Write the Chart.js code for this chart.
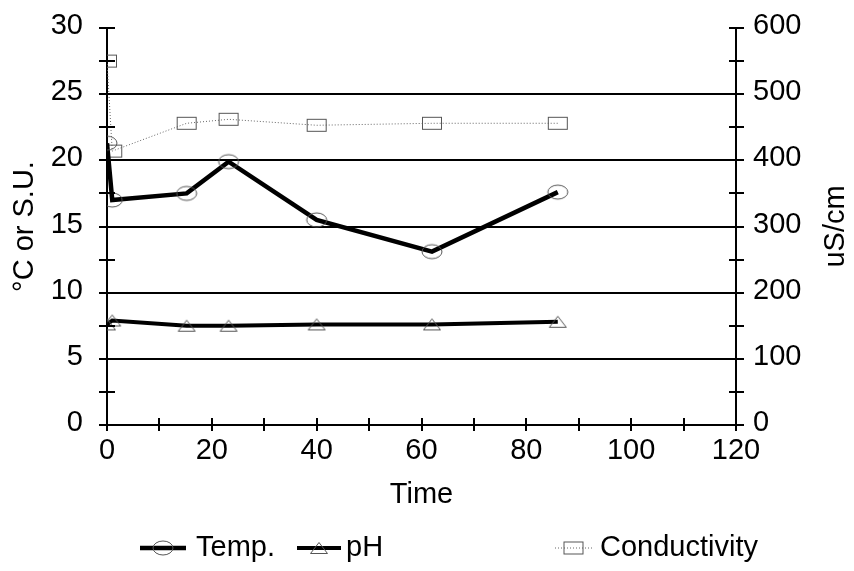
<!DOCTYPE html>
<html><head><meta charset="utf-8">
<script src="https://cdn.jsdelivr.net/npm/chart.js@4/dist/chart.umd.min.js"></script>
<style>html,body{margin:0;padding:0;background:#fff;overflow:hidden}#wrap{width:854px;height:571px}</style>
</head><body><div id="wrap"><canvas id="c" width="854" height="571"></canvas></div>
<script>
// ---- data ----
const timeValues = [0, 1, 15.2, 23.2, 40, 62, 86];
const tempValues = [21.3, 17.0, 17.5, 19.9, 15.5, 13.1, 17.6];
const phValues = [7.6, 7.9, 7.5, 7.5, 7.6, 7.6, 7.8];
const condValues = [550, 414, 456, 462, 453, 456, 456];
const seriesLabels = ['Temp.', 'pH', 'Conductivity'];
const xTickValues = [0, 20, 40, 60, 80, 100, 120];
const leftTickValues = [0, 5, 10, 15, 20, 25, 30];
const rightTickValues = [0, 100, 200, 300, 400, 500, 600];
const xTitle = 'Time';
const leftTitle = '°C or S.U.';
const rightTitle = 'uS/cm';

const FONT = 'Arial, "Liberation Sans", sans-serif';
const FS = 29;

function mk(w, h, draw) {
  const c = document.createElement('canvas');
  c.width = w + 4; c.height = h + 4;
  const g = c.getContext('2d');
  g.strokeStyle = '#555'; g.lineWidth = 1;
  draw(g, c.width, c.height);
  return c;
}
const circleMarker = mk(20, 14, (g, W, H) => { g.beginPath(); g.ellipse(W/2, H/2, 10, 7, 0, 0, Math.PI*2); g.stroke(); });
const triMarker = mk(18, 12, (g, W, H) => { g.beginPath(); g.moveTo(W/2, 2.5); g.lineTo(2.5, H-2.5); g.lineTo(W-2.5, H-2.5); g.closePath(); g.stroke(); });
const rectMarker = mk(20, 13, (g, W, H) => { g.strokeRect(2.5, 2.5, W-5, H-5); });

function pts(ys) { return timeValues.map((t, i) => ({x: t, y: ys[i]})); }

const crossTicks = {
  id: 'crossTicks',
  afterDraw(chart) {
    const ctx = chart.ctx, xs = chart.scales.x, ys = chart.scales.y, y1 = chart.scales.y1;
    ctx.save();
    ctx.strokeStyle = '#000'; ctx.lineWidth = 2;
    const xb = ys.getPixelForValue(0);
    for (let v = xs.min; v <= xs.max; v += 10) {
      const px = Math.round(xs.getPixelForValue(v));
      ctx.beginPath(); ctx.moveTo(px, xb - 7); ctx.lineTo(px, xb + 6); ctx.stroke();
    }
    const yl = xs.getPixelForValue(xs.min);
    for (let v = ys.min; v <= ys.max; v += 2.5) {
      const py = Math.round(ys.getPixelForValue(v));
      ctx.beginPath(); ctx.moveTo(yl - 8, py); ctx.lineTo(yl + 8, py); ctx.stroke();
    }
    const yr = xs.getPixelForValue(xs.max);
    for (let v = y1.min; v <= y1.max; v += 50) {
      const py = Math.round(y1.getPixelForValue(v));
      ctx.beginPath(); ctx.moveTo(yr - 7, py); ctx.lineTo(yr + 8, py); ctx.stroke();
    }
    // right axis title, reading bottom to top
    ctx.fillStyle = '#000';
    ctx.font = FS + 'px ' + FONT;
    ctx.textAlign = 'center'; ctx.textBaseline = 'middle';
    ctx.translate(836, (chart.chartArea.top + chart.chartArea.bottom) / 2);
    ctx.rotate(-Math.PI / 2);
    ctx.fillText(rightTitle, 0, 0);
    ctx.restore();
  }
};

const legendPos = [
  {x: 140, w: 46, tx: 196},
  {x: 297, w: 44, tx: 346},
  {x: 555, w: 37, tx: 600}
];
const customLegend = {
  id: 'customLegend',
  afterDraw(chart) {
    const ctx = chart.ctx, yy = 548;
    ctx.save();
    chart.data.datasets.forEach((ds, i) => {
      const p = legendPos[i];
      ctx.strokeStyle = ds.borderColor; ctx.lineWidth = ds.borderWidth;
      ctx.setLineDash(ds.borderDash || []);
      ctx.beginPath(); ctx.moveTo(p.x, yy); ctx.lineTo(p.x + p.w, yy); ctx.stroke();
      ctx.setLineDash([]);
      const img = ds.pointStyle;
      ctx.drawImage(img, p.x + p.w/2 - img.width/2, yy - img.height/2);
      ctx.fillStyle = '#000';
      ctx.font = FS + 'px ' + FONT;
      ctx.textAlign = 'left'; ctx.textBaseline = 'middle';
      ctx.fillText(ds.label, p.tx, yy);
    });
    ctx.restore();
  }
};

new Chart(document.getElementById('c'), {
  type: 'line',
  data: {
    datasets: [
      {label: seriesLabels[0], data: pts(tempValues), yAxisID: 'y', borderColor: '#000', borderWidth: 4.5,
       pointStyle: circleMarker, pointRadius: 10, tension: 0, fill: false},
      {label: seriesLabels[1], data: pts(phValues), yAxisID: 'y', borderColor: '#000', borderWidth: 4,
       pointStyle: triMarker, pointRadius: 10, tension: 0, fill: false},
      {label: seriesLabels[2], data: pts(condValues), yAxisID: 'y1', borderColor: '#666', borderWidth: 1,
       borderDash: [1, 2], pointStyle: rectMarker, pointRadius: 10, tension: 0, fill: false}
    ]
  },
  options: {
    responsive: false, animation: false, devicePixelRatio: 1,
    layout: {padding: {top: 28, bottom: 59, left: 0, right: 0}},
    plugins: {legend: {display: false}, tooltip: {enabled: false}},
    scales: {
      x: {
        type: 'linear', position: 'bottom', min: 0, max: 120,
        afterBuildTicks: s => { s.ticks = xTickValues.map(v => ({value: v})); },
        ticks: {color: '#000', font: {family: FONT, size: FS}, padding: 9, maxRotation: 0, autoSkip: false},
        grid: {drawOnChartArea: false, drawTicks: false},
        border: {color: '#000', width: 2},
        title: {display: true, text: xTitle, color: '#000', font: {family: FONT, size: FS}, padding: {top: 0, bottom: 0}},
        afterFit: s => { s.height = 87; }
      },
      y: {
        position: 'left', min: 0, max: 30,
        afterBuildTicks: s => { s.ticks = leftTickValues.map(v => ({value: v})); },
        ticks: {color: '#000', font: {family: FONT, size: FS}, padding: 0, labelOffset: -2},
        grid: {drawTicks: true, tickLength: 24, tickColor: 'rgba(0,0,0,0)', lineWidth: 2,
               color: c => (c.tick && c.tick.value > 0 && c.tick.value < 30) ? '#000' : 'rgba(0,0,0,0)'},
        border: {color: '#000', width: 2},
        title: {display: true, text: leftTitle, color: '#000', font: {family: FONT, size: FS}, padding: {top: 8, bottom: 0}},
        afterFit: s => { s.width = 107; }
      },
      y1: {
        position: 'right', min: 0, max: 600,
        afterBuildTicks: s => { s.ticks = rightTickValues.map(v => ({value: v})); },
        ticks: {color: '#000', font: {family: FONT, size: FS}, padding: 0, labelOffset: -2},
        grid: {drawOnChartArea: false, drawTicks: true, tickLength: 17, tickColor: 'rgba(0,0,0,0)'},
        border: {color: '#000', width: 2},
        afterFit: s => { s.width = 118; }
      }
    }
  },
  plugins: [crossTicks, customLegend]
});
</script>
</body></html>
